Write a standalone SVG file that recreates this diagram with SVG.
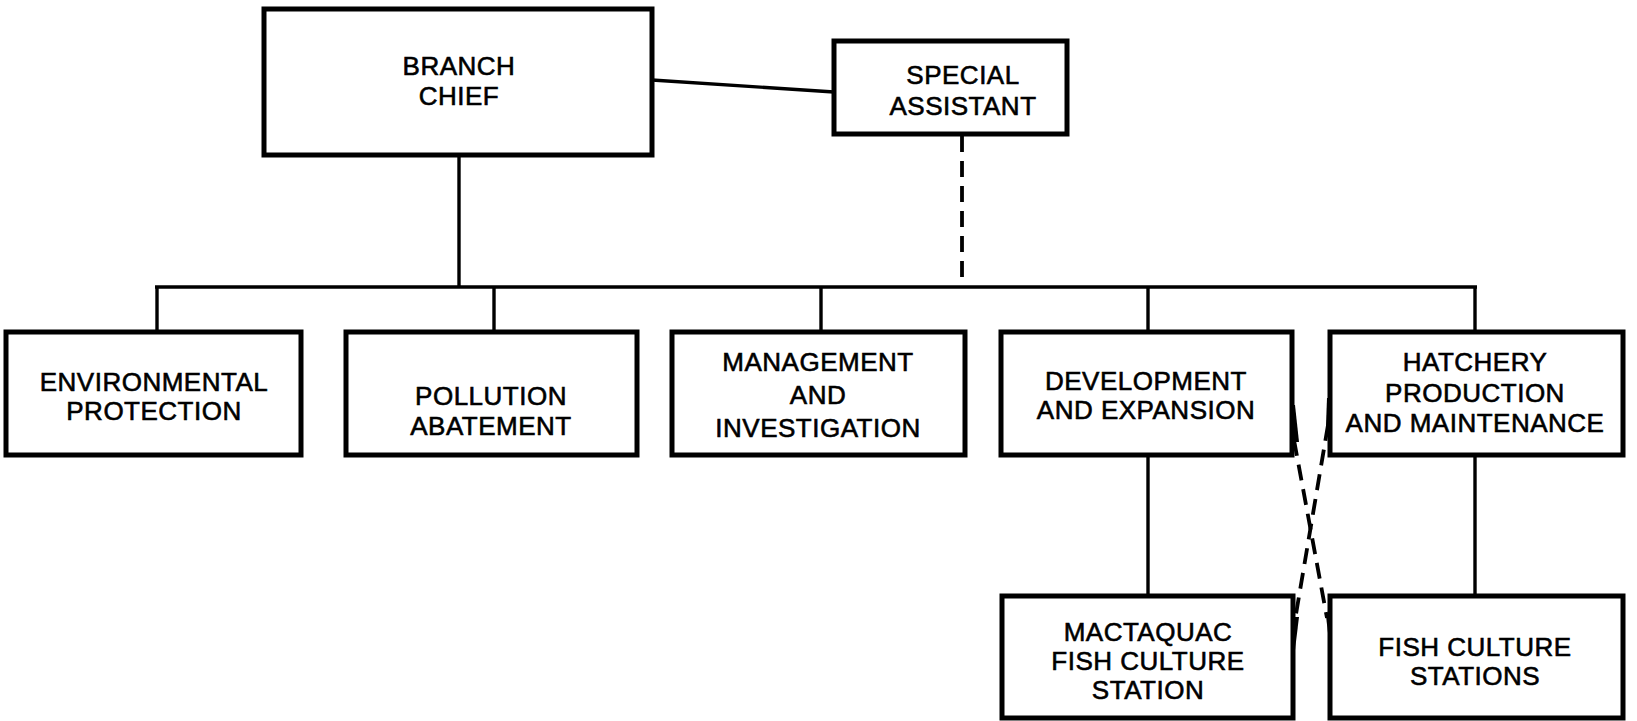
<svg xmlns="http://www.w3.org/2000/svg" width="1637" height="721" viewBox="0 0 1637 721">
<style>
.box{fill:#fff;stroke:#000;stroke-width:5}
.ln{fill:none;stroke:#000;stroke-width:3.4}
.dash{fill:none;stroke:#000;stroke-width:3.8;stroke-dasharray:16 9}
.wedge{fill:#000}
text{font-family:"Liberation Sans",Arial,sans-serif;font-size:26px;fill:#000;stroke:#000;stroke-width:0.6;text-anchor:middle;letter-spacing:0.5px}
</style>
<rect width="1637" height="721" fill="#fff"/>
<g id="connectors">
<line class="ln" x1="652" y1="80" x2="834" y2="92"/>
<line class="ln" x1="459" y1="155" x2="459" y2="287"/>
<line class="dash" x1="962" y1="136" x2="962" y2="287"/>
<line class="ln" x1="155" y1="287" x2="1477" y2="287"/>
<line class="ln" x1="157" y1="287" x2="157" y2="332"/>
<line class="ln" x1="494" y1="287" x2="494" y2="332"/>
<line class="ln" x1="821" y1="287" x2="821" y2="332"/>
<line class="ln" x1="1148" y1="287" x2="1148" y2="332"/>
<line class="ln" x1="1475" y1="287" x2="1475" y2="332"/>
<line class="ln" x1="1148" y1="455" x2="1148" y2="595"/>
<line class="ln" x1="1475" y1="455" x2="1475" y2="595"/>
<line class="dash" x1="1294" y1="440" x2="1327" y2="618"/>
<line class="dash" x1="1328" y1="425" x2="1295" y2="620"/>
<polygon class="wedge" points="1291,405 1295,405 1299,442 1294,442"/>
<polygon class="wedge" points="1327,398 1332,398 1331,425 1326,425"/>
<polygon class="wedge" points="1294,617 1299,617 1294,658 1291,658"/>
<polygon class="wedge" points="1326,616 1331,616 1333,650 1330,650"/>
</g>
<g id="branch-chief"><rect class="box" x="264" y="9" width="388" height="146"/><text x="459" y="75">BRANCH</text><text x="459" y="105">CHIEF</text></g>
<g id="special-assistant"><rect class="box" x="834" y="41" width="233" height="93"/><text x="963" y="84">SPECIAL</text><text x="963" y="115">ASSISTANT</text></g>
<g id="environmental-protection"><rect class="box" x="6" y="332" width="295" height="123"/><text x="154" y="391" font-size="25">ENVIRONMENTAL</text><text x="154" y="420" font-size="25">PROTECTION</text></g>
<g id="pollution-abatement"><rect class="box" x="346" y="332" width="291" height="123"/><text x="491" y="405">POLLUTION</text><text x="491" y="435">ABATEMENT</text></g>
<g id="management-investigation"><rect class="box" x="672" y="332" width="293" height="123"/><text x="818" y="371">MANAGEMENT</text><text x="818" y="404">AND</text><text x="818" y="437">INVESTIGATION</text></g>
<g id="development-expansion"><rect class="box" x="1001" y="332" width="291" height="123"/><text x="1146" y="390">DEVELOPMENT</text><text x="1146" y="419">AND EXPANSION</text></g>
<g id="hatchery-production"><rect class="box" x="1330" y="332" width="293" height="123"/><text x="1475" y="371">HATCHERY</text><text x="1475" y="402">PRODUCTION</text><text x="1475" y="432">AND MAINTENANCE</text></g>
<g id="mactaquac"><rect class="box" x="1002" y="596" width="291" height="122"/><text x="1148" y="641">MACTAQUAC</text><text x="1148" y="670">FISH CULTURE</text><text x="1148" y="699">STATION</text></g>
<g id="fish-culture-stations"><rect class="box" x="1330" y="596" width="293" height="122"/><text x="1475" y="656">FISH CULTURE</text><text x="1475" y="685">STATIONS</text></g>
</svg>
